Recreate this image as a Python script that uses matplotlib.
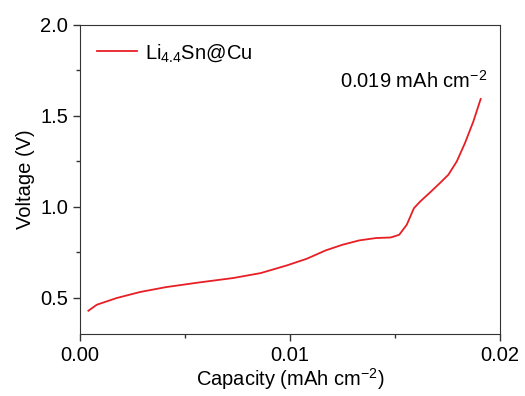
import matplotlib.pyplot as plt
from matplotlib.ticker import MultipleLocator

plt.rcParams['font.family'] = ['Liberation Sans', 'DejaVu Sans']
plt.rcParams['mathtext.fontset'] = 'custom'
plt.rcParams['mathtext.rm'] = 'Liberation Sans'
plt.rcParams['mathtext.it'] = 'Liberation Sans'

# capacity (mAh cm-2) and voltage (V)
capacity = [0.0004, 0.0008, 0.00175, 0.00286, 0.0041, 0.0057, 0.0073, 0.0086,
            0.00984, 0.0108, 0.0117, 0.0125, 0.0133, 0.0141, 0.0148, 0.0152,
            0.01556, 0.0159, 0.0162, 0.01667, 0.0171, 0.01754, 0.01794,
            0.01833, 0.01873, 0.01908]
voltage = [0.428, 0.461, 0.498, 0.531, 0.558, 0.584, 0.608, 0.635,
           0.677, 0.714, 0.760, 0.791, 0.815, 0.828, 0.831, 0.846,
           0.901, 0.992, 1.029, 1.079, 1.126, 1.176, 1.249,
           1.350, 1.469, 1.593]
series_label = 'Li$_{4.4}$Sn@Cu'
note = '0.019 mAh cm$^{-2}$'

fig = plt.figure(figsize=(5.25, 3.96), dpi=100)
ax = fig.add_axes([80/525, 1-334/396, 420/525, 309/396])
ax.plot(capacity, voltage, color='#e81e25', lw=1.3, label=series_label)

ax.set_xlim(0, 0.02)
ax.set_ylim(0.3, 2.0)
ax.set_xticks([0, 0.01, 0.02])
ax.set_xticklabels(['0.00', '0.01', '0.02'])
ax.set_yticks([0.5, 1.0, 1.5, 2.0])
ax.xaxis.set_minor_locator(MultipleLocator(0.005))
ax.yaxis.set_minor_locator(MultipleLocator(0.25))
ax.tick_params(which='major', direction='out', length=5, width=1, labelsize=14.5, color='#333333')
ax.tick_params(which='minor', direction='out', length=3, width=1, color='#333333')
for s in ax.spines.values():
    s.set_color('#333333')
ax.set_xlabel('Capacity (mAh cm$^{-2}$)', fontsize=14.5, labelpad=1)
ax.set_ylabel('Voltage (V)', fontsize=14.5, labelpad=4)

ax.text(0.01938, 1.63, note, fontsize=14.5, ha='right', va='bottom')
ax.legend(loc='upper left', frameon=False, fontsize=14.5, handlelength=2.0,
          handletextpad=0.4, borderaxespad=0.45)

plt.savefig('out.png', dpi=100)
